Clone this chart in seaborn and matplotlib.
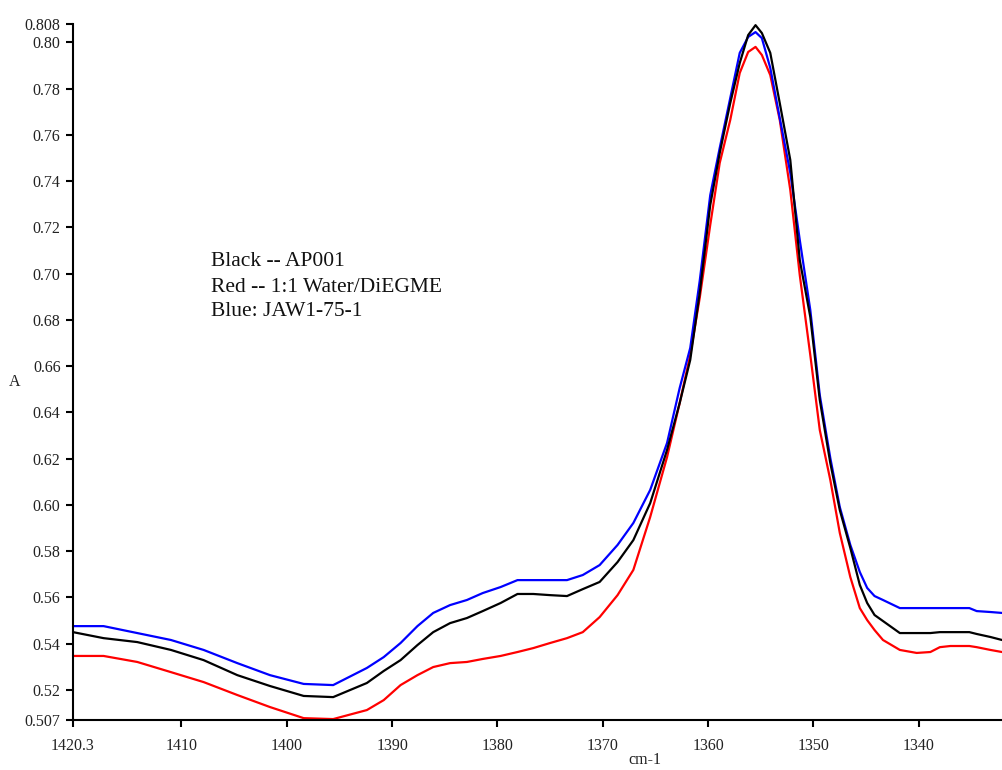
import matplotlib
matplotlib.use("Agg")
import matplotlib.pyplot as plt
import seaborn as sns
import pandas as pd

# ---- data (wavenumber cm-1, absorbance A) ----
wavenumber = [1420.3, 1417.4, 1414.2, 1411.0, 1407.9, 1404.7, 1401.6, 1398.4, 1395.6, 1392.4,
              1390.8, 1389.2, 1387.6, 1386.1, 1384.5, 1382.9, 1381.4, 1379.7, 1378.1, 1376.6,
              1375.0, 1373.4, 1371.9, 1370.3, 1368.6, 1367.1, 1365.5, 1363.9, 1362.7, 1361.7,
              1360.8, 1359.8, 1358.9, 1357.9, 1357.0, 1356.2, 1355.5, 1354.9, 1354.1, 1353.2,
              1352.2, 1351.3, 1350.3, 1349.4, 1348.4, 1347.5, 1346.5, 1345.6, 1344.9, 1344.2,
              1343.4, 1341.8, 1340.2, 1338.9, 1338.0, 1337.0, 1335.2, 1334.5, 1333.2, 1332.1]

black_ap001 = [0.5450, 0.5424, 0.5407, 0.5373, 0.5329, 0.5264, 0.5217, 0.5174, 0.5169, 0.5230,
               0.5282, 0.5329, 0.5394, 0.5450, 0.5489, 0.5511, 0.5541, 0.5576, 0.5615, 0.5615,
               0.5610, 0.5606, 0.5636, 0.5667, 0.5753, 0.5848, 0.6008, 0.6238, 0.6441, 0.6627,
               0.6917, 0.7297, 0.7522, 0.7738, 0.7911, 0.8032, 0.8075, 0.8041, 0.7955, 0.7738,
               0.7492, 0.7059, 0.6813, 0.6454, 0.6181, 0.5978, 0.5814, 0.5654, 0.5576, 0.5524,
               0.5498, 0.5446, 0.5446, 0.5446, 0.5450, 0.5450, 0.5450, 0.5442, 0.5429, 0.5416]

blue_jaw = [0.5476, 0.5476, 0.5446, 0.5416, 0.5373, 0.5316, 0.5264, 0.5226, 0.5221, 0.5295,
            0.5342, 0.5403, 0.5476, 0.5533, 0.5567, 0.5589, 0.5619, 0.5645, 0.5675, 0.5675,
            0.5675, 0.5675, 0.5697, 0.5740, 0.5827, 0.5922, 0.6065, 0.6268, 0.6506, 0.6679,
            0.6969, 0.7340, 0.7544, 0.7760, 0.7955, 0.8024, 0.8045, 0.8019, 0.7890, 0.7673,
            0.7436, 0.7146, 0.6843, 0.6475, 0.6203, 0.5991, 0.5827, 0.5710, 0.5641, 0.5606,
            0.5589, 0.5554, 0.5554, 0.5554, 0.5554, 0.5554, 0.5554, 0.5541, 0.5537, 0.5533]

red_water = [0.5347, 0.5347, 0.5321, 0.5277, 0.5234, 0.5178, 0.5126, 0.5078, 0.5074, 0.5113,
             0.5156, 0.5221, 0.5264, 0.5299, 0.5316, 0.5321, 0.5334, 0.5347, 0.5364, 0.5381,
             0.5403, 0.5424, 0.5450, 0.5515, 0.5610, 0.5719, 0.5948, 0.6207, 0.6441, 0.6648,
             0.6895, 0.7211, 0.7479, 0.7665, 0.7868, 0.7959, 0.7981, 0.7946, 0.7859, 0.7665,
             0.7362, 0.6994, 0.6648, 0.6324, 0.6108, 0.5879, 0.5688, 0.5554, 0.5502, 0.5459,
             0.5416, 0.5373, 0.5360, 0.5364, 0.5385, 0.5390, 0.5390, 0.5385, 0.5373, 0.5364]

series_names = ["Red", "Blue", "Black"]
series_colors = {"Red": "#ff0000", "Blue": "#0000ff", "Black": "#000000"}
legend_lines = ["Black -- AP001", "Red -- 1:1 Water/DiEGME", "Blue: JAW1-75-1"]

y_ticks = [0.507, 0.52, 0.54, 0.56, 0.58, 0.60, 0.62, 0.64, 0.66, 0.68, 0.70,
           0.72, 0.74, 0.76, 0.78, 0.80, 0.808]
y_labels = ["0.507", "0.52", "0.54", "0.56", "0.58", "0.60", "0.62", "0.64", "0.66", "0.68",
            "0.70", "0.72", "0.74", "0.76", "0.78", "0.80", "0.808"]
x_ticks = [1420.3, 1410, 1400, 1390, 1380, 1370, 1360, 1350, 1340]
x_labels = ["1420.3", "1410", "1400", "1390", "1380", "1370", "1360", "1350", "1340"]

# ---- long-form table ----
frames = []
for name, vals in zip(["Red", "Blue", "Black"], [red_water, blue_jaw, black_ap001]):
    frames.append(pd.DataFrame({"wn": wavenumber, "A": vals, "series": name}))
df = pd.concat(frames, ignore_index=True)

sns.set_style("ticks")
plt.rcParams["font.family"] = ["Liberation Serif", "DejaVu Serif"]

fig = plt.figure(figsize=(10.02, 7.70), dpi=100)
ax = fig.add_axes([73 / 1002, 50 / 770, 929 / 1002, 696 / 770])

sns.lineplot(data=df, x="wn", y="A", hue="series", hue_order=series_names,
             palette=series_colors, estimator=None, sort=False, linewidth=1.6,
             legend=False, ax=ax)

ax.set_xlim(1420.3, 1332.1)
ax.set_ylim(0.507, 0.808)
ax.set_xticks(x_ticks)
ax.set_xticklabels(x_labels)
ax.set_yticks(y_ticks)
ax.set_yticklabels(y_labels)
ax.set_xlabel("")
ax.set_ylabel("")
for s in ["top", "right"]:
    ax.spines[s].set_visible(False)
for s in ["left", "bottom"]:
    ax.spines[s].set_linewidth(1.5)
    ax.spines[s].set_color("black")
ax.tick_params(axis="both", direction="out", length=5, width=1.5, colors="black",
               labelsize=11.5, labelcolor="#222222")
ax.tick_params(axis="y", pad=4)
ax.tick_params(axis="x", pad=8)
for ln in ax.lines:
    ln.set_clip_on(False)

fig.text(15 / 1002, 1 - 382 / 770, "A", fontsize=11.5, ha="center", va="center", color="#222222")
fig.text(645 / 1002, 1 - 760 / 770, "cm-1", fontsize=11.5, ha="center", va="center", color="#222222")

for i, t in enumerate(legend_lines):
    fig.text(211 / 1002, 1 - (262 + 25 * i) / 770, t, fontsize=15.5,
             ha="left", va="center", color="#111111")

fig.savefig("out.png", dpi=100)
